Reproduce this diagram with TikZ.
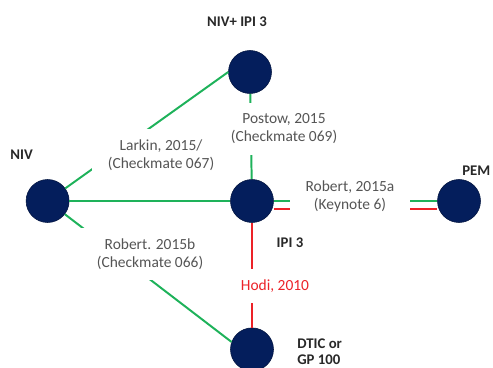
\documentclass[tikz,border=0pt]{standalone}
\usepackage{fontspec}
\setmainfont{Carlito}
\usepackage{xcolor}
\usepackage{tikz}
\usetikzlibrary{positioning}
\definecolor{trtnavy}{RGB}{4,30,92}
\definecolor{trialgreen}{RGB}{30,178,90}
\definecolor{trialred}{RGB}{236,34,40}
\definecolor{studygray}{RGB}{85,85,85}
\definecolor{trtgray}{RGB}{40,40,40}
\tikzset{
  trt/.style={circle, fill=trtnavy, draw=trtnavy!70!black, minimum size=1.075cm, inner sep=0pt},
  trtlabel/.style={font=\bfseries\fontsize{10.5}{11.3}\selectfont, text=trtgray, inner sep=0pt},
  study/.style={fill=white, align=center, inner xsep=11pt, inner ysep=7.5pt, font=\fontsize{11}{12.8}\selectfont, text=studygray},
  greenline/.style={draw=trialgreen, line width=1.4pt},
  redline/.style={draw=trialred, line width=1.4pt},
}

\begin{document}
\begin{tikzpicture}
  \useasboundingbox (0,0) rectangle (12.325,9.175);

  % treatments
  \node[trt] (nivipi) at (6.25,7.375) {};
  \node[trt] (niv) at (1.19,4.15) {};
  \node[trt] (ipi) at (6.3,4.15) {};
  \node[trt] (pem) at (11.475,4.15) {};
  \node[trt] (dtic) at (6.3,0.44) {};

  \node[trtlabel] (nivipilab) at (5.925,8.625) {NIV+ IPI 3};
  \node[trtlabel] (nivlab) at (0.54,5.3) {NIV};
  \node[trtlabel, anchor=west] (pemlab) at (11.55,4.9) {PEM};
  \node[trtlabel] (ipilab) at (7.25,3.1) {IPI 3};
  \node[trtlabel, anchor=north west, align=left] (dticlab) at (7.425,0.7) {DTIC or\\GP 100};

  % trials
  \draw[greenline] (niv) -- (nivipi.west);
  \draw[greenline] (nivipi) -- (ipi);
  \draw[greenline] (niv) -- (ipi);
  \draw[greenline] (niv) -- (dtic.160);
  \draw[greenline] (ipi) -- (pem);
  \draw[redline, transform canvas={yshift=-0.2cm}] (ipi) -- (pem);
  \draw[redline] (ipi) -- (dtic);

  % study names
  \node[study] (larkin) at (4.025,5.3) {Larkin, 2015/\\(Checkmate 067)};
  \node[study] (postow) at (7.1,5.95) {Postow, 2015\\(Checkmate 069)};
  \node[study] (roberta) at (8.75,4.275) {Robert, 2015a\\(Keynote 6)};
  \node[study] (robertb) at (3.75,2.825) {Robert. 2015b\\(Checkmate 066)};
  \node[study, text=trialred] (hodi) at (6.875,2.025) {Hodi, 2010};

\end{tikzpicture}
\end{document}
